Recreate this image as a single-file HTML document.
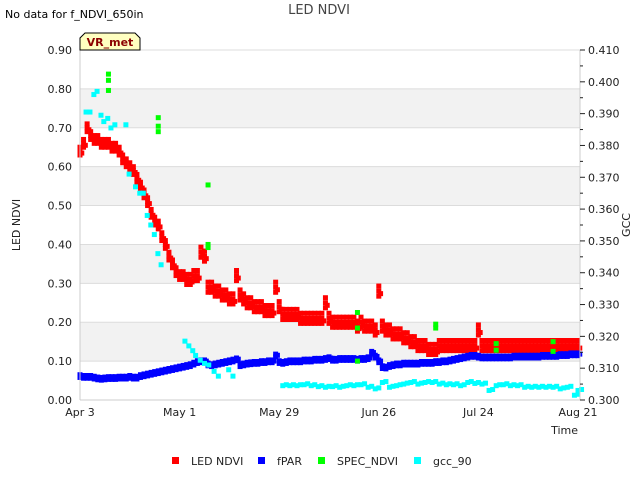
<!DOCTYPE html>
<html><head><meta charset="utf-8">
<style>
body{margin:0;background:#fff;font-family:"DejaVu Sans","Liberation Sans",sans-serif;}
svg text{font-family:"DejaVu Sans","Liberation Sans",sans-serif;}
</style></head>
<body>
<svg id="chart" width="640" height="480" xmlns="http://www.w3.org/2000/svg">
<rect x="0" y="0" width="640" height="480" fill="#fff"/>
<g id="bands"></g>
<g id="grid"></g>
<g id="marks"></g>
<g id="axes"></g>
<text x="319" y="14" font-size="13" fill="#444" text-anchor="middle">LED NDVI</text>
<text x="5" y="18" font-size="11" fill="#000">No data for f_NDVI_650in</text>
<g>
<path d="M80,50 L80,38 L85,33 L135,33 L140,38 L140,50 Z" fill="#ffffc0" stroke="#000" stroke-width="1"/>
<text x="110" y="46" font-size="11" font-weight="bold" fill="#8b0000" text-anchor="middle">VR_met</text>
</g>
<text transform="translate(20,225) rotate(-90)" font-size="11" fill="#222" text-anchor="middle">LED NDVI</text>
<text transform="translate(630,225) rotate(-90)" font-size="11" fill="#222" text-anchor="middle">GCC</text>
<text x="578" y="434" font-size="11" fill="#222" text-anchor="end">Time</text>
<g id="legend"></g>
</svg>
<script>
const xTickLabels=["Apr 3","May 1","May 29","Jun 26","Jul 24","Aug 21"];
const xTickDays=[0,28,56,84,112,140];
const yLeftTicks=[0,0.1,0.2,0.3,0.4,0.5,0.6,0.7,0.8,0.9];
const yRightTicks=[0.30,0.31,0.32,0.33,0.34,0.35,0.36,0.37,0.38,0.39,0.40,0.41];
const ndvi=[0.64,0.66,0.70,0.68,0.67,0.67,0.66,0.66,0.66,0.65,0.65,0.64,0.62,0.61,0.60,0.59,0.57,0.55,0.53,0.51,
0.48,0.46,0.45,0.42,0.40,0.37,0.35,0.33,0.32,0.32,0.31,0.31,0.32,0.32,0.38,0.37,0.29,0.29,0.28,0.28,
0.27,0.27,0.26,0.26,0.32,0.27,0.26,0.25,0.25,0.24,0.24,0.24,0.23,0.23,0.23,0.29,0.24,0.22,0.22,0.22,
0.22,0.22,0.21,0.21,0.21,0.21,0.21,0.21,0.21,0.25,0.21,0.20,0.20,0.20,0.20,0.20,0.20,0.20,0.19,0.20,
0.19,0.19,0.19,0.18,0.28,0.19,0.18,0.18,0.17,0.17,0.17,0.16,0.16,0.15,0.15,0.14,0.14,0.14,0.13,0.13,
0.13,0.14,0.14,0.14,0.14,0.14,0.14,0.14,0.14,0.14,0.14,0.14,0.18,0.14,0.14,0.14,0.14,0.14,0.14,0.14,
0.14,0.14,0.14,0.14,0.14,0.14,0.14,0.14,0.14,0.14,0.14,0.14,0.14,0.14,0.14,0.14,0.14,0.14,0.14,0.14,0.14];
const fpar=[0.062,0.06,0.06,0.06,0.058,0.056,0.055,0.056,0.057,0.057,0.057,0.058,0.058,0.058,0.06,0.058,0.058,0.062,0.064,0.066,
0.068,0.07,0.072,0.074,0.076,0.078,0.08,0.082,0.084,0.086,0.088,0.09,0.094,0.098,0.10,0.10,0.092,0.09,0.092,0.094,
0.096,0.098,0.10,0.102,0.105,0.09,0.092,0.094,0.095,0.096,0.096,0.098,0.098,0.10,0.10,0.115,0.098,0.096,0.098,0.10,
0.10,0.10,0.10,0.102,0.102,0.102,0.104,0.104,0.104,0.106,0.108,0.104,0.104,0.106,0.106,0.106,0.106,0.106,0.104,0.106,
0.106,0.108,0.122,0.112,0.10,0.085,0.084,0.088,0.09,0.092,0.092,0.094,0.094,0.094,0.094,0.094,0.096,0.096,0.096,0.096,
0.098,0.098,0.1,0.1,0.102,0.104,0.106,0.108,0.11,0.112,0.114,0.114,0.112,0.11,0.11,0.11,0.11,0.11,0.11,0.11,
0.11,0.11,0.112,0.112,0.112,0.112,0.112,0.112,0.112,0.112,0.114,0.114,0.114,0.114,0.114,0.116,0.116,0.116,0.118,0.118,0.118];
const gccDays=[1.7,2.8,3.9,4.8,5.9,6.7,7.8,8.7,9.8,12.9,13.8,15.6,16.8,17.8,18.9,19.9,20.9,21.9,22.8,29.5,30.6,31.7,32.5,33.8,35,36.2,37.7,38.9,41.8,43,
57,59,61,63,65,67,69,71,73,75,77,79,81,83,85,87,89,91,93,95,97,99,101,103,105,107,109,111,113,115,117,119,121,123,125,127,129,131,133,135,137,139,140];
const gccVals=[0.3905,0.3905,0.3960,0.3970,0.3895,0.3875,0.3885,0.3855,0.3865,0.3865,0.3710,0.3670,0.3650,0.3650,0.3580,0.3550,0.3520,0.3460,0.3425,0.3185,0.3170,0.3155,0.3140,0.3125,0.3115,0.3110,0.3090,0.3075,0.3095,0.3075,
0.3045,0.3045,0.3045,0.3048,0.3045,0.3042,0.3040,0.3042,0.3040,0.3045,0.3045,0.3048,0.3040,0.3035,0.3055,0.3040,0.3045,0.3050,0.3055,0.3050,0.3055,0.3055,0.3050,0.3048,0.3048,0.3045,0.3055,0.3052,0.3050,0.3030,0.3045,0.3048,0.3045,0.3045,0.3040,0.3040,0.3040,0.3040,0.3040,0.3035,0.3040,0.3015,0.3030];
const specDays=[8,8,8,22,22,22,36,36,36,78,78,78,100,100,117,117,133,133];
const specVals=[0.838,0.822,0.796,0.726,0.704,0.690,0.553,0.400,0.392,0.225,0.185,0.100,0.195,0.185,0.145,0.128,0.150,0.125];

const L=80,R=580,T=50,B=400;
const xs=d=>80+d*(578-80)/140;
const yl=v=>B-(v/0.9)*(B-T);
const yr=v=>B-((v-0.3)/0.11)*(B-T);
const NS="http://www.w3.org/2000/svg";
function mk(tag,attrs,parent){const e=document.createElementNS(NS,tag);for(const k in attrs)e.setAttribute(k,attrs[k]);document.getElementById(parent).appendChild(e);return e;}

for(let i=1;i<9;i+=2){
 const b=mk('rect',{x:L,y:yl(yLeftTicks[i+1]),width:R-L,height:yl(yLeftTicks[i])-yl(yLeftTicks[i+1]),fill:'#f2f2f2'},'bands');
 
 
}
yLeftTicks.forEach(v=>{
 const g=mk('line',{x1:L,x2:R,y1:yl(v),y2:yl(v),stroke:'#dcdcdc','stroke-width':1},'grid');
 
 
 const t=mk('text',{x:L-8,y:yl(v)+4,'font-size':11,fill:'#222','text-anchor':'end'},'axes');
 
 
 t.textContent=v.toFixed(2);
});
mk('line',{x1:L,x2:L,y1:T,y2:B,stroke:'#ccc'},'axes');
mk('line',{x1:L,x2:R,y1:B,y2:B,stroke:'#ccc'},'axes');
mk('line',{x1:R,x2:R,y1:T,y2:B,stroke:'#ccc'},'axes');
yRightTicks.forEach((v,i)=>{
 const y=yr(v);
 mk('line',{x1:R,x2:R+5,y1:y,y2:y,stroke:'#222'},'axes');
 if(i<yRightTicks.length-1){const ym=yr(v+0.005);mk('line',{x1:R,x2:R+3,y1:ym,y2:ym,stroke:'#222'},'axes');}
 const t=mk('text',{x:R+8,y:y+4,'font-size':11,fill:'#222'},'axes');
 
 
 t.textContent=v.toFixed(3);
});
xTickDays.forEach((d,i)=>{
 const t=mk('text',{x:xs(d),y:416,'font-size':11,fill:'#222','text-anchor':'middle'},'axes');
 
 
 t.textContent=xTickLabels[i];
});
function sq(x,y,c,s){const r=mk('rect',{x:x-s/2,y:y-s/2,width:s,height:s,fill:c},'marks');return r;}
ndvi.forEach((v,d)=>{
 const sp=d<30?0.01:0.013;
 [v-sp,v,v+sp].forEach(w=>{const r=sq(xs(d),yl(w),'#ff0000',5);
 
 });
 const r2=sq(xs(d+0.5),yl(v-sp*0.5),'#ff0000',5);
 
 
});
fpar.forEach((v,d)=>{
 [v-0.004,v+0.003].forEach(w=>{const r=sq(xs(d),yl(w),'#0000ff',5);
 
 });
 const r2=sq(xs(d+0.5),yl(v),'#0000ff',5);
 
 
});
specDays.forEach((d,i)=>{const r=sq(xs(d),yl(specVals[i]),'#00ff00',5);
 
 });
gccDays.forEach((d,i)=>{const r=sq(xs(d),yr(gccVals[i]),'#00ffff',5);
 
 
 if(d>=57){const r2=sq(xs(d+1),yr(gccVals[i]+0.0003),'#00ffff',5);
 
 }});

const legNames=["LED NDVI","fPAR","SPEC_NDVI","gcc_90"];
const legColors=["#ff0000","#0000ff","#00ff00","#00ffff"];
const legX=[176,262,322,418];
legNames.forEach((n,i)=>{
 const g=mk('g',{},'legend');
 
 
 const r=document.createElementNS(NS,'rect');
 r.setAttribute('x',legX[i]-4);r.setAttribute('y',457);r.setAttribute('width',7);r.setAttribute('height',7);r.setAttribute('fill',legColors[i]);
 g.appendChild(r);
 const t=document.createElementNS(NS,'text');
 t.setAttribute('x',legX[i]+15);t.setAttribute('y',465);t.setAttribute('font-size',11);t.setAttribute('fill','#222');
 t.textContent=n;g.appendChild(t);
});
</script>
</body></html>
